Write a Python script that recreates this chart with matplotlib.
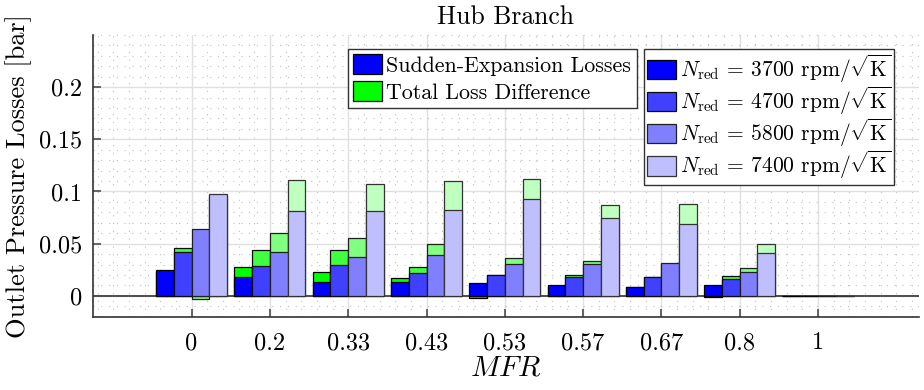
import matplotlib
matplotlib.use("Agg")
import matplotlib.pyplot as plt
from matplotlib.patches import Patch
from matplotlib.ticker import MultipleLocator
import numpy as np

plt.rcParams["font.family"] = "serif"
plt.rcParams["font.serif"] = ["cmr10", "DejaVu Serif"]
plt.rcParams["mathtext.fontset"] = "cm"
plt.rcParams["axes.unicode_minus"] = False

# Mass-flow-ratio operating points
mfr_labels = ["0", "0.2", "0.33", "0.43", "0.53", "0.57", "0.67", "0.8", "1"]

# Reduced speeds [rpm/sqrt(K)]
speeds = [3700, 4700, 5800, 7400]

# Sudden-expansion losses [bar] per speed
sudden_3700 = [0.0247, 0.0180, 0.0132, 0.0129, 0.0119, 0.0103, 0.0087, 0.0100, 0.0]
sudden_4700 = [0.0423, 0.0288, 0.0295, 0.0215, 0.0202, 0.0180, 0.0183, 0.0157, 0.0]
sudden_5800 = [0.0644, 0.0417, 0.0369, 0.0391, 0.0301, 0.0301, 0.0311, 0.0225, 0.0]
sudden_7400 = [0.0977, 0.0814, 0.0811, 0.0826, 0.0932, 0.0743, 0.0692, 0.0407, 0.0]

# Total loss difference [bar] per speed
total_3700 = [0.0240, 0.0273, 0.0225, 0.0167, -0.0022, 0.0095, 0.0080, -0.0012, 0.0]
total_4700 = [0.0455, 0.0442, 0.0439, 0.0273, 0.0198, 0.0199, 0.0178, 0.0189, 0.0]
total_5800 = [-0.0032, 0.0599, 0.0557, 0.0494, 0.0362, 0.0333, 0.0305, 0.0266, 0.0]
total_7400 = [0.0960, 0.1108, 0.1067, 0.1099, 0.1121, 0.0874, 0.0878, 0.0500, 0.0]

ytick_values = [0, 0.05, 0.1, 0.15, 0.2]
ytick_labels = ["0", "0.05", "0.1", "0.15", "0.2"]

sudden = [sudden_3700, sudden_4700, sudden_5800, sudden_7400]
total = [total_3700, total_4700, total_5800, total_7400]

shades = [0.0, 0.25, 0.5, 0.75]
blues = [(s, s, 1.0) for s in shades]
greens = [(s, 1.0, s) for s in shades]
edges = ["black", "0.05", "0.12", "0.2"]

fig = plt.figure(figsize=(9.24, 3.90), dpi=100)
ax = fig.add_axes([0.1006, 0.188, 0.894, 0.7223])

x = np.arange(len(mfr_labels))
width = 0.227
offsets = (np.arange(len(speeds)) - 1.5) * width

for i in range(len(speeds)):
    ax.bar(x + offsets[i], total[i], width, color=greens[i],
           edgecolor=edges[i], linewidth=0.9, zorder=3)
    ax.bar(x + offsets[i], sudden[i], width, color=blues[i],
           edgecolor=edges[i], linewidth=0.9, zorder=4)

ax.axhline(0, color="0.3", linewidth=1.4, zorder=2.5)

ax.set_xlim(-1.26, 9.29)
ax.set_ylim(-0.02, 0.25)
ax.set_xticks(x)
ax.set_xticklabels(mfr_labels)
ax.set_yticks(ytick_values)
ax.set_yticklabels(ytick_labels)
ax.xaxis.set_minor_locator(MultipleLocator(0.2))
ax.yaxis.set_minor_locator(MultipleLocator(0.01))

ax.grid(which="major", color="0.88", linewidth=1.0, zorder=0)
ax.grid(which="minor", color="0.75", linestyle=(0, (1, 6)), linewidth=0.8, zorder=0)
ax.set_axisbelow(True)

for side in ("top", "right"):
    ax.spines[side].set_visible(False)
for side in ("left", "bottom"):
    ax.spines[side].set_color("0.2")
    ax.spines[side].set_linewidth(1.2)

ax.tick_params(which="major", direction="in", length=6, width=1.2, color="0.3",
               labelsize=17.5, pad=8)
ax.tick_params(axis="x", which="major", pad=11)
ax.tick_params(which="minor", length=0)

ax.set_title("Hub Branch", fontsize=18.5, pad=8)
ax.set_ylabel("Outlet Pressure Losses [bar]", fontsize=19, labelpad=5)
ax.set_xlabel(r"$MFR$", fontsize=21, labelpad=1)

loss_handles = [
    Patch(facecolor=blues[0], edgecolor="black", linewidth=0.9, label="Sudden-Expansion Losses"),
    Patch(facecolor=greens[0], edgecolor="black", linewidth=0.9, label="Total Loss Difference"),
]
speed_handles = [
    Patch(facecolor=blues[i], edgecolor=edges[i], linewidth=0.9,
          label=r"$N_\mathrm{red}$ = %d rpm/$\sqrt{\mathrm{K}}$" % speeds[i])
    for i in range(len(speeds))
]

leg1 = fig.legend(handles=loss_handles, loc="upper left",
                  bbox_to_anchor=(348 / 924, 1 - 49 / 390),
                  fontsize=15.8, frameon=True, fancybox=False, framealpha=1,
                  edgecolor="0.2", borderaxespad=0, handlelength=1.3,
                  handleheight=1.0, handletextpad=0.2, labelspacing=0.25,
                  borderpad=0.25)
leg1.get_frame().set_linewidth(1.0)
leg2 = fig.legend(handles=speed_handles, loc="upper left",
                  bbox_to_anchor=(644 / 924, 1 - 49 / 390),
                  fontsize=15.5, frameon=True, fancybox=False, framealpha=1,
                  edgecolor="0.2", borderaxespad=0, handlelength=1.35,
                  handleheight=1.0, handletextpad=0.15, labelspacing=0.0,
                  borderpad=0.15)
leg2.get_frame().set_linewidth(1.0)

fig.savefig("out.png", dpi=100)
